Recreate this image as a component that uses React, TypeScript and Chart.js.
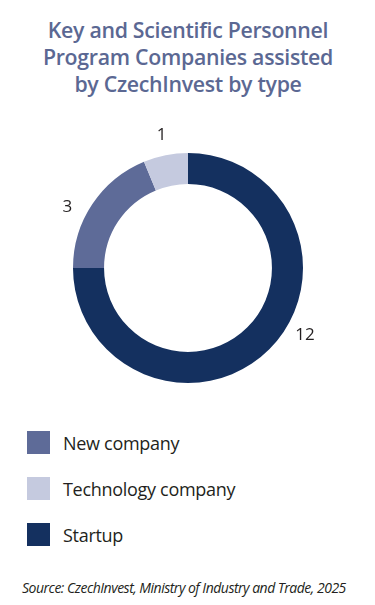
import React, { useEffect, useRef } from "react";
import { Chart, registerables } from "chart.js";

Chart.register(...registerables);

const categories = ["New company", "Technology company", "Startup"];
const values = [3, 1, 12];
const colors = ["#5e6b98", "#c5cadf", "#14305f"];
const labelAngleOffsets = [-7, 0, -15];

const TEXT = "#231f20";

const outsideLabels = {
  id: "outsideLabels",
  afterDatasetsDraw(chart: any) {
    const { ctx } = chart;
    const meta = chart.getDatasetMeta(0);
    ctx.save();
    ctx.font = "400 17px 'Open Sans', sans-serif";
    ctx.fillStyle = TEXT;
    ctx.textAlign = "center";
    ctx.textBaseline = "middle";
    meta.data.forEach((arc: any, i: number) => {
      const p = arc.getProps(["x", "y", "startAngle", "endAngle", "outerRadius"], true);
      const mid = (p.startAngle + p.endAngle) / 2 + (labelAngleOffsets[i] * Math.PI) / 180;
      const r = p.outerRadius + 20;
      ctx.fillText(String(values[i]), p.x + Math.cos(mid) * r, p.y + Math.sin(mid) * r);
    });
    ctx.restore();
  },
};

export default function App() {
  const ref = useRef<HTMLCanvasElement | null>(null);

  useEffect(() => {
    document.body.style.margin = "0";
    const chart = new Chart(ref.current as HTMLCanvasElement, {
      type: "doughnut",
      data: {
        labels: categories,
        datasets: [
          {
            data: values,
            backgroundColor: colors,
            borderWidth: 0,
          },
        ],
      },
      options: {
        responsive: false,
        maintainAspectRatio: false,
        animation: false,
        rotation: 270,
        cutout: "73%",
        layout: { padding: 40 },
        plugins: {
          legend: { display: false },
          tooltip: { enabled: false },
        },
      },
      plugins: [outsideLabels],
    });
    return () => chart.destroy();
  }, []);

  return (
    <div
      style={{
        position: "relative",
        width: 375,
        height: 605,
        background: "#ffffff",
        overflow: "hidden",
        fontFamily: "'Open Sans', sans-serif",
      }}
    >
      <div
        style={{
          position: "absolute",
          top: 16,
          left: 0,
          width: 376,
          textAlign: "center",
          color: "#5b6893",
          fontSize: 21.3,
          fontWeight: 600,
          lineHeight: "27px",
          letterSpacing: -0.3,
        }}
      >
        Key and Scientific Personnel
        <br />
        Program Companies assisted
        <br />
        by CzechInvest by type
      </div>
      <canvas
        ref={ref}
        width={310}
        height={310}
        style={{ position: "absolute", left: 33, top: 113, width: 310, height: 310 }}
      />
      <div style={{ position: "absolute", left: 27, top: 431 }}>
        {categories.map((c, i) => (
          <div
            key={c}
            style={{ display: "flex", alignItems: "center", height: 23, marginBottom: 23 }}
          >
            <div style={{ width: 23, height: 23, background: colors[i] }} />
            <div
              style={{
                marginLeft: 13,
                fontSize: 18,
                color: TEXT,
                letterSpacing: -0.3,
                whiteSpace: "nowrap",
              }}
            >
              {c}
            </div>
          </div>
        ))}
      </div>
      <div
        style={{
          position: "absolute",
          left: 22,
          top: 578,
          fontSize: 14,
          fontStyle: "italic",
          color: TEXT,
          whiteSpace: "nowrap",
          letterSpacing: -0.5,
        }}
      >
        Source: CzechInvest, Ministry of Industry and Trade, 2025
      </div>
    </div>
  );
}
